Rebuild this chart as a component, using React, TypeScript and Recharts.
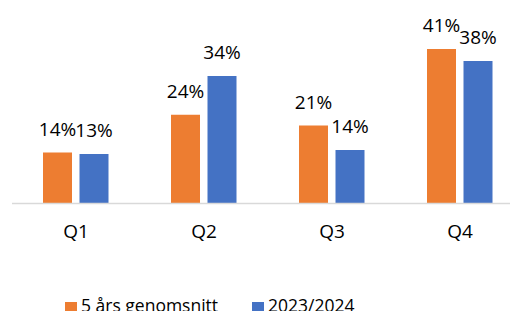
import { BarChart, Bar, XAxis, YAxis, Legend, LabelList } from "recharts";

const categories = ["Q1", "Q2", "Q3", "Q4"];
const fiveYearAvg = [13.6, 23.7, 20.8, 41.2];
const season2324 = [13.2, 34.0, 14.3, 38.0];

const data = categories.map((name, i) => ({
  name,
  avg: fiveYearAvg[i],
  current: season2324[i],
}));

const pct = (v: number) => `${Math.round(v)}%`;

export default function App() {
  return (
    <div
      style={{
        position: "absolute",
        left: 0,
        top: 0,
        width: 510,
        height: 311,
        overflow: "hidden",
        background: "#fff",
        fontFamily: "'Open Sans', sans-serif",
      }}
    >
      <BarChart
        width={524}
        height={311}
        data={data}
        margin={{ top: 34.75, right: 0, left: 12, bottom: 67.5 }}
        barSize={29}
        barGap={7.5}
      >
        <XAxis
          dataKey="name"
          height={40}
          axisLine={{ stroke: "#d9d9d9", strokeWidth: 1.5 }}
          tickLine={false}
          tickMargin={15}
          tick={{ fontSize: 19, fill: "#000" }}
        />
        <YAxis hide domain={[0, 45]} />
        <Legend
          verticalAlign="middle"
          align="center"
          iconType="square"
          iconSize={12}
          itemSorter="dataKey"
          wrapperStyle={{ left: 65, top: 293, width: "auto" }}
          formatter={(value: string) => (
            <span style={{ color: "#000", fontSize: 17.5, marginRight: 24 }}>{value}</span>
          )}
        />
        <Bar dataKey="avg" name="5 års genomsnitt" fill="#ED7D31" isAnimationActive={false}>
          <LabelList dataKey="avg" position="top" offset={17} fill="#000" fontSize={19} formatter={pct} />
        </Bar>
        <Bar dataKey="current" name="2023/2024" fill="#4472C4" isAnimationActive={false}>
          <LabelList dataKey="current" position="top" offset={17} fill="#000" fontSize={19} formatter={pct} />
        </Bar>
      </BarChart>
    </div>
  );
}
